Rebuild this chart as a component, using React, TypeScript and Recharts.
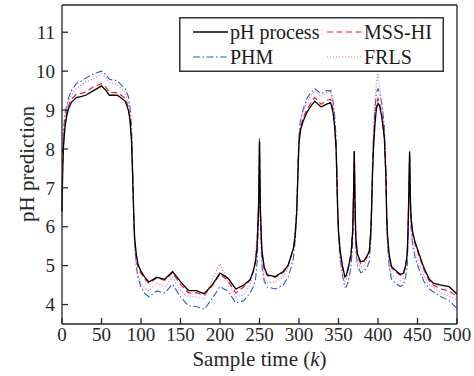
import React from "react";
import { LineChart, Line, XAxis, YAxis } from "recharts";

// sample index k (denser around the sharp spikes)
const K = [
  0, 1, 2, 4, 6, 8, 12, 18, 25, 30,
  40, 50, 55, 60, 70, 80, 84, 86, 88, 89,
  90, 91, 92, 94, 96, 100, 105, 110, 120, 130,
  140, 150, 160, 170, 180, 190, 200, 210, 220, 230,
  238, 242, 245, 247, 249, 250, 251, 253, 256, 260,
  270, 280, 286, 290, 293, 295, 297, 298, 299, 300,
  302, 305, 310, 315, 320, 328, 335, 340, 343, 345,
  347, 348, 349, 350, 352, 355, 358, 360, 363, 366,
  368, 369, 370, 371, 372, 374, 378, 382, 386, 389,
  391, 392, 393, 394, 396, 398, 400, 402, 405, 408,
  410, 411, 412, 414, 417, 422, 428, 432, 435, 437,
  438, 439, 440, 441, 442, 444, 447, 452, 458, 465,
  470, 480, 490, 500,
];

const PH_PROCESS = [
  6.4, 7.6, 8.1, 8.6, 8.85, 9.02, 9.2, 9.32, 9.35, 9.38,
  9.5, 9.62, 9.52, 9.38, 9.38, 9.23, 9.0, 8.75, 8.2, 7.6,
  6.9, 6.2, 5.7, 5.3, 5.05, 4.85, 4.7, 4.58, 4.7, 4.65,
  4.85, 4.59, 4.36, 4.36, 4.28, 4.5, 4.81, 4.68, 4.4, 4.5,
  4.64, 4.85, 5.1, 5.5, 6.6, 8.2, 6.5, 5.4, 4.95, 4.76,
  4.72, 4.85, 5.0, 5.25, 5.45, 5.75, 6.3, 6.9, 7.6, 8.15,
  8.5, 8.7, 8.94, 9.1, 9.23, 9.08, 9.15, 9.19, 8.95, 8.6,
  8.0, 7.2, 6.4, 5.9, 5.4, 5.0, 4.72, 4.76, 5.0, 5.3,
  5.9, 6.8, 7.94, 6.5, 5.7, 5.3, 5.1, 5.12, 5.25, 5.37,
  5.9, 6.5, 7.3, 7.9, 8.6, 9.05, 9.17, 9.1, 8.8, 8.3,
  7.3, 6.3, 5.8, 5.3, 4.98, 4.88, 4.78, 4.8, 5.0, 5.3,
  5.9, 6.8, 7.92, 6.7, 6.2, 5.85, 5.6, 5.3, 4.95, 4.65,
  4.55, 4.5, 4.46, 4.27,
];

const MSS_HI = [
  6.4, 7.7, 8.2, 8.7, 8.95, 9.1, 9.28, 9.4, 9.43, 9.46,
  9.6, 9.68, 9.6, 9.45, 9.45, 9.3, 9.08, 8.8, 8.25, 7.6,
  6.85, 6.1, 5.6, 5.2, 4.98, 4.8, 4.65, 4.55, 4.68, 4.62,
  4.82, 4.52, 4.3, 4.3, 4.25, 4.48, 4.78, 4.62, 4.3, 4.45,
  4.62, 4.85, 5.12, 5.55, 6.7, 8.2, 6.45, 5.35, 4.9, 4.74,
  4.7, 4.82, 4.98, 5.25, 5.45, 5.8, 6.4, 7.0, 7.7, 8.2,
  8.55, 8.78, 9.02, 9.18, 9.32, 9.15, 9.25, 9.28, 9.0, 8.62,
  8.0, 7.2, 6.4, 5.85, 5.35, 4.95, 4.7, 4.74, 5.0, 5.35,
  5.95, 6.85, 7.94, 6.45, 5.65, 5.25, 5.05, 5.1, 5.22, 5.35,
  5.95, 6.6, 7.4, 8.0, 8.7, 9.15, 9.3, 9.2, 8.85, 8.3,
  7.3, 6.25, 5.75, 5.25, 4.95, 4.85, 4.75, 4.78, 5.0, 5.32,
  5.95, 6.85, 7.9, 6.65, 6.15, 5.8, 5.55, 5.25, 4.9, 4.6,
  4.5, 4.4, 4.35, 4.2,
];

const PHM = [
  6.5, 7.9, 8.5, 8.95, 9.1, 9.3, 9.5, 9.68, 9.75, 9.82,
  9.93, 10.0, 9.92, 9.79, 9.75, 9.55, 9.35, 9.1, 8.6, 7.9,
  7.1, 6.2, 5.6, 5.0, 4.7, 4.45, 4.28, 4.2, 4.35, 4.3,
  4.52, 4.2, 3.97, 3.95, 3.88, 4.15, 4.46, 4.35, 4.04, 4.1,
  4.3, 4.45, 4.65, 5.1, 6.3, 8.3, 6.2, 5.0, 4.6, 4.45,
  4.4, 4.5, 4.7, 4.95, 5.2, 5.6, 6.3, 7.0, 7.8, 8.35,
  8.75, 9.0, 9.3, 9.45, 9.55, 9.42, 9.5, 9.5, 9.25, 8.9,
  8.3, 7.4, 6.5, 5.8, 5.2, 4.75, 4.45, 4.45, 4.65, 5.0,
  5.6, 6.6, 7.95, 6.2, 5.4, 5.0, 4.82, 4.85, 4.95, 5.1,
  5.7, 6.5, 7.5, 8.2, 9.0, 9.45, 9.55, 9.45, 9.15, 8.6,
  7.5, 6.3, 5.6, 5.0, 4.65, 4.55, 4.47, 4.5, 4.7, 5.0,
  5.6, 6.6, 7.95, 6.4, 5.9, 5.5, 5.2, 4.9, 4.6, 4.4,
  4.33, 4.2, 4.1, 3.9,
];

const FRLS = [
  6.2, 7.7, 8.3, 8.8, 9.0, 9.2, 9.38, 9.55, 9.65, 9.72,
  9.8, 9.93, 9.85, 9.7, 9.65, 9.45, 9.2, 8.95, 8.4, 7.7,
  6.9, 6.0, 5.4, 4.95, 4.75, 4.55, 4.42, 4.35, 4.55, 4.45,
  4.7, 4.35, 4.2, 4.2, 4.15, 4.65, 5.05, 4.6, 4.2, 4.25,
  4.5, 4.8, 5.3, 5.8, 6.8, 8.15, 6.3, 5.1, 4.65, 4.56,
  4.58, 4.7, 4.95, 5.2, 5.5, 5.9, 6.5, 7.2, 7.9, 8.35,
  8.7, 8.95, 9.2, 9.38, 9.5, 9.35, 9.45, 9.48, 9.2, 8.8,
  8.1, 7.2, 6.3, 5.7, 5.1, 4.78, 4.6, 4.65, 4.95, 5.3,
  6.0, 6.9, 7.9, 6.2, 5.45, 5.1, 4.95, 5.0, 5.15, 5.35,
  6.0, 6.8, 7.7, 8.4, 9.2, 9.7, 9.95, 9.6, 9.1, 8.5,
  7.3, 6.1, 5.5, 5.0, 4.75, 4.68, 4.6, 4.68, 4.95, 5.35,
  6.0, 6.9, 7.85, 6.4, 5.9, 5.6, 5.35, 5.05, 4.75, 4.5,
  4.45, 4.3, 4.22, 4.1,
];

const X_TICKS = [0, 50, 100, 150, 200, 250, 300, 350, 400, 450, 500];
const Y_TICKS = [4, 5, 6, 7, 8, 9, 10, 11];

const SERIES = [
  { key: "phm", name: "PHM", values: PHM, color: "#2a5bc4", dash: "7 2.5 1.5 2.5", width: 1.1 },
  { key: "frls", name: "FRLS", values: FRLS, color: "#d27ad2", dash: "1.2 1.8", width: 1.1 },
  { key: "mss", name: "MSS-HI", values: MSS_HI, color: "#ee1c24", dash: "6 3.5", width: 1.2 },
  { key: "ph", name: "pH process", values: PH_PROCESS, color: "#000000", dash: undefined, width: 1.3 },
];

const data = K.map((k, i) => {
  const row: Record<string, number> = { k };
  SERIES.forEach((s) => (row[s.key] = s.values[i]));
  return row;
});

const FONT = "'Liberation Serif', 'Times New Roman', serif";
const AXIS = "#262626";

function XLabel(props: any) {
  const { viewBox } = props;
  return (
    <text
      x={viewBox.x + viewBox.width / 2}
      y={366}
      textAnchor="middle"
      fontFamily={FONT}
      fontSize={21}
      fill={AXIS}
    >
      Sample time (<tspan fontStyle="italic">k</tspan>)
    </text>
  );
}

function YLabel() {
  return (
    <text
      x={34}
      y={164}
      transform="rotate(-90, 34, 164)"
      textAnchor="middle"
      fontFamily={FONT}
      fontSize={21}
      fill={AXIS}
    >
      pH prediction
    </text>
  );
}

const LEGEND_ROWS = [
  [SERIES[3], SERIES[2]],
  [SERIES[0], SERIES[1]],
];

function LegendBox() {
  return (
    <svg
      width={265}
      height={55}
      style={{ position: "absolute", left: 179, top: 17 }}
    >
      <rect x={0.75} y={0.75} width={263.5} height={53.5} fill="#fff" stroke="#333" strokeWidth={1.5} />
      {LEGEND_ROWS.map((row, r) =>
        row.map((s, c) => {
          const x0 = c === 0 ? 14 : 148;
          const cy = r === 0 ? 15 : 40;
          return (
            <g key={s.key}>
              <line
                x1={x0}
                x2={x0 + 35}
                y1={cy}
                y2={cy}
                stroke={s.color}
                strokeWidth={s.width}
                strokeDasharray={s.dash}
              />
              <text x={x0 + 37} y={cy + 7} fontFamily={FONT} fontSize={20} fill="#1a1a1a">
                {s.name}
              </text>
            </g>
          );
        }),
      )}
    </svg>
  );
}

export default function App() {
  return (
    <div style={{ position: "absolute", left: 0, top: 0, width: 474, height: 376, background: "#fff" }}>
      <LineChart width={474} height={376} data={data} margin={{ top: 4, right: 16, bottom: 0, left: 0 }}>
        <XAxis
          dataKey="k"
          type="number"
          domain={[0, 500]}
          ticks={X_TICKS}
          interval={0}
          height={52}
          stroke={AXIS}
          strokeWidth={1.3}
          tickSize={-6}
          tickMargin={10}
          tick={{ fontFamily: FONT, fontSize: 19, fill: AXIS }}
          label={<XLabel />}
        />
        <XAxis
          xAxisId="top"
          orientation="top"
          dataKey="k"
          type="number"
          domain={[0, 500]}
          ticks={X_TICKS}
          interval={0}
          height={1}
          stroke={AXIS}
          strokeWidth={1.3}
          tickSize={-6}
          tick={false}
        />
        <YAxis
          type="number"
          domain={[3.5, 11.7]}
          ticks={Y_TICKS}
          interval={0}
          width={62}
          stroke={AXIS}
          strokeWidth={1.3}
          tickSize={-6}
          tickMargin={13}
          tick={{ fontFamily: FONT, fontSize: 19, fill: AXIS }}
          label={<YLabel />}
        />
        <YAxis
          yAxisId="right"
          orientation="right"
          type="number"
          domain={[3.5, 11.7]}
          ticks={Y_TICKS}
          interval={0}
          width={1}
          stroke={AXIS}
          strokeWidth={1.3}
          tickSize={-6}
          tick={false}
        />
        {SERIES.map((s) => (
          <Line
            key={s.key}
            type="linear"
            dataKey={s.key}
            name={s.name}
            stroke={s.color}
            strokeWidth={s.width}
            strokeDasharray={s.dash}
            dot={false}
            activeDot={false}
            isAnimationActive={false}
          />
        ))}
      </LineChart>
      <LegendBox />
    </div>
  );
}
